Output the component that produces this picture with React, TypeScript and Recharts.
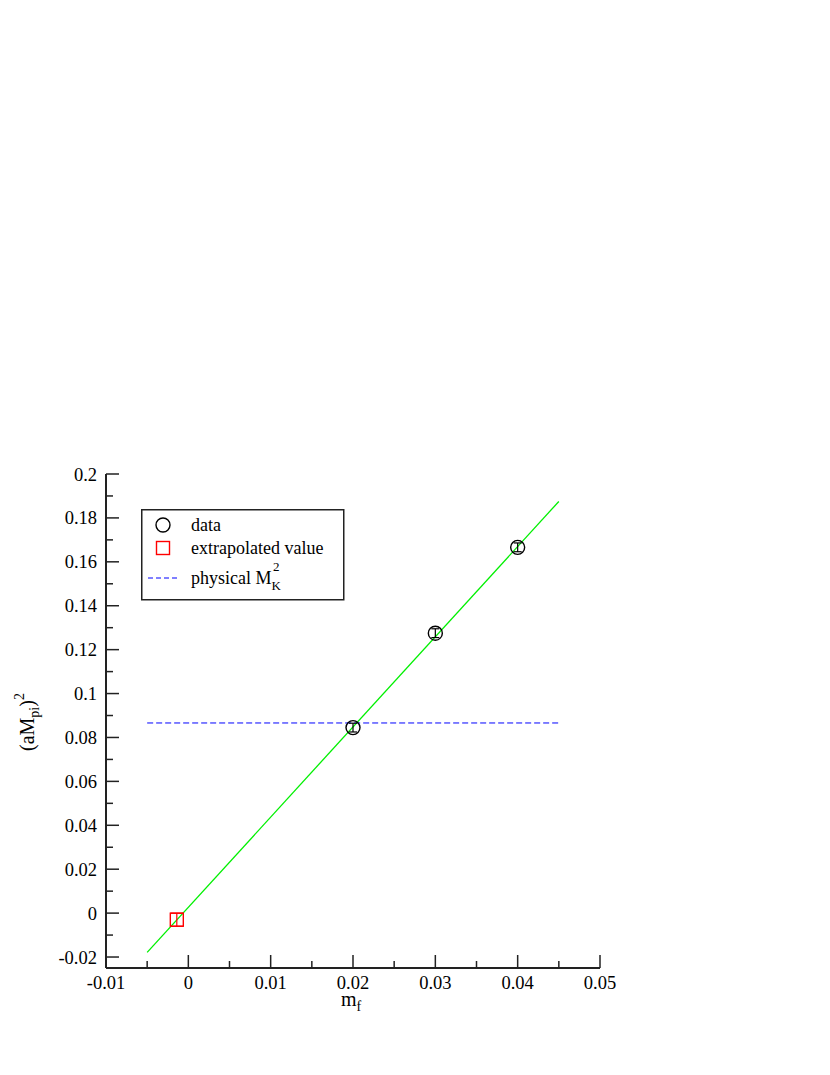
import React from "react";
import { ComposedChart, Scatter, Line, XAxis, YAxis, ErrorBar, ReferenceLine, Legend } from "recharts";

// measured points
const quarkMass = [0.02, 0.03, 0.04];
const pionMassSq = [0.0845, 0.1275, 0.1666];
const pionMassErr = [0.002, 0.002, 0.002];

// extrapolation
const extrapMass = [-0.0014];
const extrapMassSq = [-0.003];
const extrapErr = [0.003];

// linear fit ends
const fitMass = [-0.005, 0.045];
const fitMassSq = [-0.0179, 0.1875];

// physical kaon line
const kaonMassSq = 0.0866;
const kaonRange = [-0.005, 0.045];

const xMajor = [-0.01, 0, 0.01, 0.02, 0.03, 0.04, 0.05];
const xMinor = [-0.005, 0.005, 0.015, 0.025, 0.035, 0.045];
const yMajor = [-0.02, 0, 0.02, 0.04, 0.06, 0.08, 0.1, 0.12, 0.14, 0.16, 0.18, 0.2];
const yMinor = [-0.01, 0.01, 0.03, 0.05, 0.07, 0.09, 0.11, 0.13, 0.15, 0.17, 0.19];

const FONT = "Liberation Serif, Times New Roman, Times, serif";
const AXIS = "#222";

const points = quarkMass.map((m, i) => ({ x: m, y: pionMassSq[i], err: pionMassErr[i] }));
const extrap = extrapMass.map((m, i) => ({ x: m, y: extrapMassSq[i], err: extrapErr[i] }));
const fit = fitMass.map((m, i) => ({ x: m, y: fitMassSq[i] }));

const isMajor = (v: number, list: number[]) => list.some((t) => Math.abs(t - v) < 1e-9);
const fmt = (v: number) => String(Number(v.toFixed(4)));

const BottomTick = (p: any) => {
  const major = isMajor(p.payload.value, xMajor);
  return (
    <g>
      <line x1={p.x} y1={p.y} x2={p.x} y2={p.y - (major ? 13 : 7)} stroke={AXIS} strokeWidth={1.5} />
      {major && (
        <text x={p.x} y={p.y + 21} textAnchor="middle" fontFamily={FONT} fontSize={18.5} fill="#000">
          {fmt(p.payload.value)}
        </text>
      )}
    </g>
  );
};

const TopTick = (p: any) => {
  const major = isMajor(p.payload.value, xMajor);
  return <line x1={p.x} y1={p.y} x2={p.x} y2={p.y + (major ? 13 : 7)} stroke={AXIS} strokeWidth={1.5} />;
};

const LeftTick = (p: any) => {
  const major = isMajor(p.payload.value, yMajor);
  return (
    <g>
      <line x1={p.x} y1={p.y} x2={p.x + (major ? 13 : 7)} y2={p.y} stroke={AXIS} strokeWidth={1.5} />
      {major && (
        <text x={p.x - 9} y={p.y + 6.5} textAnchor="end" fontFamily={FONT} fontSize={18.5} fill="#000">
          {fmt(p.payload.value)}
        </text>
      )}
    </g>
  );
};

const RightTick = (p: any) => {
  const major = isMajor(p.payload.value, yMajor);
  return <line x1={p.x} y1={p.y} x2={p.x - (major ? 13 : 7)} y2={p.y} stroke={AXIS} strokeWidth={1.5} />;
};

const Circle = (p: any) => <circle cx={p.cx} cy={p.cy} r={7} fill="none" stroke="#000" strokeWidth={1.4} />;
const Square = (p: any) => (
  <rect x={p.cx - 6.5} y={p.cy - 6.5} width={13} height={13} fill="none" stroke="#ff0000" strokeWidth={1.4} />
);

const XLabel = (p: any) => {
  const vb = p.viewBox;
  return (
    <text x={vb.x + vb.width / 2 - 2} y={vb.y + 38} textAnchor="middle" fontFamily={FONT} fontSize={20} fill="#000">
      m<tspan fontSize={14} dy={5}>f</tspan>
    </text>
  );
};

const YLabel = (p: any) => {
  const vb = p.viewBox;
  const cx = vb.x - 12;
  const cy = vb.y + vb.height / 2 + 1;
  return (
    <text
      x={cx}
      y={cy}
      transform={`rotate(-90, ${cx}, ${cy})`}
      textAnchor="middle"
      fontFamily={FONT}
      fontSize={20}
      fill="#000"
    >
      (aM<tspan fontSize={14} dy={5}>pi</tspan>
      <tspan dy={-5}>)</tspan>
      <tspan fontSize={14} dy={-10}>2</tspan>
    </text>
  );
};

const LegendBox = () => (
  <svg width={204} height={92} style={{ display: "block", overflow: "visible" }}>
    <rect x={0.75} y={0.75} width={202} height={90} fill="#fff" stroke={AXIS} strokeWidth={1.5} />
    <circle cx={22} cy={16} r={7} fill="none" stroke="#000" strokeWidth={1.4} />
    <rect x={15.5} y={32.5} width={13} height={13} fill="none" stroke="#ff0000" strokeWidth={1.4} />
    <line x1={7} y1={69} x2={36} y2={69} stroke="#0000ff" strokeWidth={1} strokeDasharray="5 3" />
    <g fontFamily={FONT} fontSize={18} fill="#000">
      <text x={50} y={22}>data</text>
      <text x={50} y={45}>extrapolated value</text>
      <text x={50} y={75}>
        physical M
        <tspan fontSize={13} dy={6}>K</tspan>
        <tspan fontSize={13} dx={-8} dy={-19}>2</tspan>
      </text>
    </g>
  </svg>
);

export default function App() {
  return (
    <div style={{ position: "absolute", left: 0, top: 0, background: "#fff" }}>
      <ComposedChart width={830} height={1075} margin={{ top: 474, right: 230, bottom: 77, left: 46 }}>
        <XAxis
          xAxisId="b"
          dataKey="x"
          type="number"
          domain={[-0.01, 0.05]}
          ticks={[...xMajor, ...xMinor]}
          interval={0}
          tick={BottomTick}
          tickLine={false}
          tickSize={0}
          tickMargin={0}
          axisLine={{ stroke: AXIS, strokeWidth: 2 }}
          height={30}
          allowDataOverflow
          label={{ content: XLabel }}
        />
        <XAxis
          xAxisId="t"
          orientation="top"
          dataKey="x"
          type="number"
          domain={[-0.01, 0.05]}
          ticks={[...xMajor, ...xMinor]}
          interval={0}
          tick={TopTick}
          tickLine={false}
          tickSize={0}
          tickMargin={0}
          axisLine={{ stroke: AXIS, strokeWidth: 2 }}
          height={0}
          allowDataOverflow
        />
        <YAxis
          yAxisId="l"
          dataKey="y"
          type="number"
          domain={[-0.025, 0.2]}
          ticks={[...yMajor, ...yMinor]}
          interval={0}
          tick={LeftTick}
          tickLine={false}
          tickSize={0}
          tickMargin={0}
          axisLine={{ stroke: AXIS, strokeWidth: 2 }}
          width={60}
          allowDataOverflow
          label={{ content: YLabel }}
        />
        <YAxis
          yAxisId="r"
          orientation="right"
          dataKey="y"
          type="number"
          domain={[-0.025, 0.2]}
          ticks={[...yMajor, ...yMinor]}
          interval={0}
          tick={RightTick}
          tickLine={false}
          tickSize={0}
          tickMargin={0}
          axisLine={{ stroke: AXIS, strokeWidth: 2 }}
          width={0}
          allowDataOverflow
        />
        <ReferenceLine
          xAxisId="b"
          yAxisId="l"
          segment={[
            { x: kaonRange[0], y: kaonMassSq },
            { x: kaonRange[1], y: kaonMassSq },
          ]}
          stroke="#0000ff"
          strokeWidth={1}
          strokeDasharray="6 3"
          ifOverflow="visible"
        />
        <Line
          xAxisId="b"
          yAxisId="l"
          data={fit}
          dataKey="y"
          type="linear"
          stroke="#00f000"
          strokeWidth={1.3}
          dot={false}
          isAnimationActive={false}
          legendType="none"
        />
        <Scatter xAxisId="b" yAxisId="l" name="data" data={points} shape={Circle} isAnimationActive={false}>
          <ErrorBar dataKey="err" direction="y" width={4} stroke="#000" strokeWidth={1.2} isAnimationActive={false} />
        </Scatter>
        <Scatter xAxisId="b" yAxisId="l" name="extrapolated value" data={extrap} shape={Square} isAnimationActive={false}>
          <ErrorBar dataKey="err" direction="y" width={6.5} stroke="#ff0000" strokeWidth={1.2} isAnimationActive={false} />
        </Scatter>
        <Legend
          content={LegendBox}
          wrapperStyle={{ left: 141, top: 509, width: 0, height: 0, overflow: "visible", bottom: "auto" }}
        />
      </ComposedChart>
    </div>
  );
}
